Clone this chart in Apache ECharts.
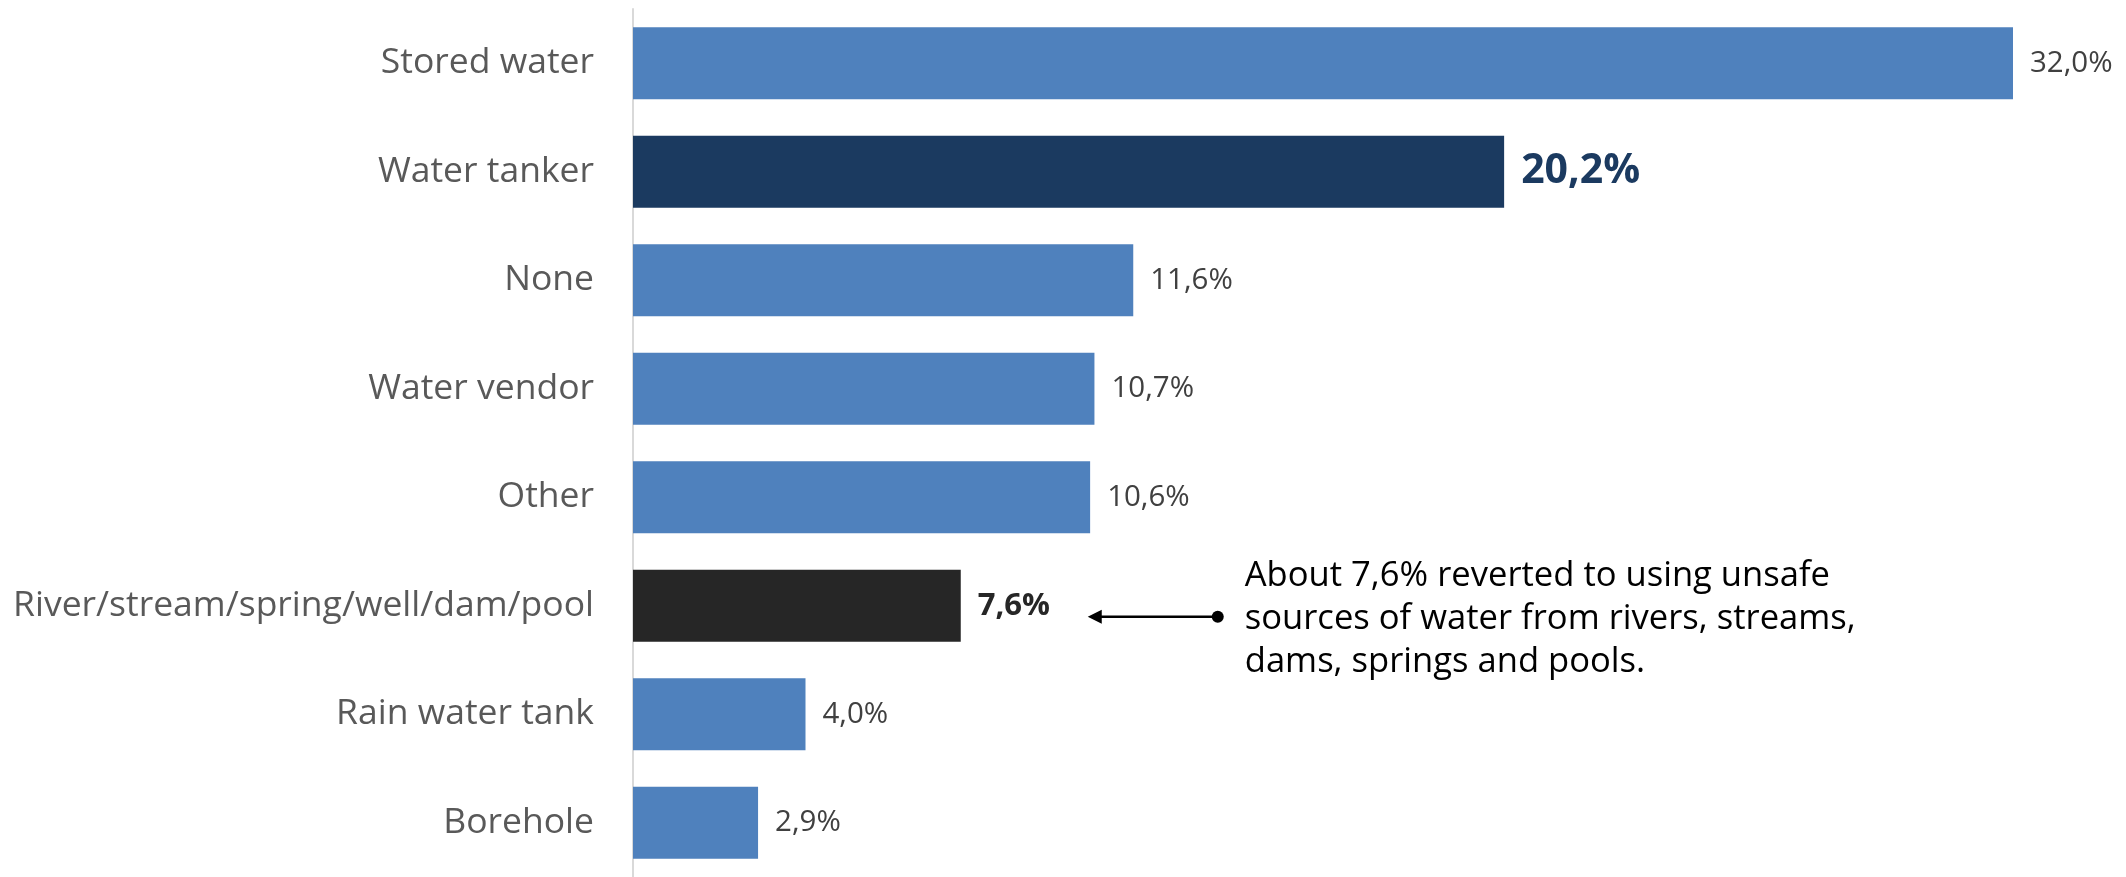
<!DOCTYPE html>
<html>
<head>
<meta charset="utf-8">
<script src="https://cdn.jsdelivr.net/npm/echarts@6/dist/echarts.min.js"></script>
<style>
  html, body { margin: 0; padding: 0; background: #fff; }
  #chart { width: 2126px; height: 877px; }
</style>
</head>
<body>
<div id="chart"></div>
<script>
// Alternative water sources used (share of households, %)
const categories = [
  'Stored water',
  'Water tanker',
  'None',
  'Water vendor',
  'Other',
  'River/stream/spring/well/dam/pool',
  'Rain water tank',
  'Borehole'
];
const shares = [32.0, 20.2, 11.6, 10.7, 10.6, 7.6, 4.0, 2.9];

const noteLines = [
  'About 7,6% reverted to using unsafe',
  'sources of water from rivers, streams,',
  'dams, springs and pools.'
];
const noteCategory = 'River/stream/spring/well/dam/pool';

const FONT = '"Open Sans", "Noto Sans", sans-serif';
const BASE_BLUE = '#4F81BD';

// Emphasised bars and their labels
const emphasis = {
  'Water tanker': { color: '#1B3A60', label: { color: '#1B3A60', fontSize: 41, fontWeight: 'bold' } },
  'River/stream/spring/well/dam/pool': { color: '#262626', label: { color: '#262626', fontSize: 31, fontWeight: 'bold' } }
};

const fmt = v => v.toFixed(1).replace('.', ',') + '%';

const barData = categories.map((c, i) => {
  const e = emphasis[c];
  const item = { value: shares[i], itemStyle: { color: e ? e.color : BASE_BLUE } };
  if (e) item.label = e.label;
  return item;
});

const chart = echarts.init(document.getElementById('chart'), null, { renderer: 'canvas' });

chart.setOption({
  animation: false,
  backgroundColor: '#ffffff',
  grid: { left: 633, top: 9, width: 1380, height: 872, containLabel: false },
  xAxis: {
    type: 'value', min: 0, max: 32,
    show: false
  },
  yAxis: {
    type: 'category',
    data: categories,
    inverse: true,
    axisLine: { show: true, lineStyle: { color: '#D9D9D9', width: 2 } },
    axisTick: { show: false },
    splitLine: { show: false },
    axisLabel: { color: '#595959', fontSize: 35.5, fontFamily: FONT, margin: 39, padding: [9, 0, 0, 0] }
  },
  series: [{
    type: 'bar',
    data: barData,
    barCategoryGap: '33.5%',
    label: {
      show: true,
      position: 'right',
      distance: 17,
      color: '#404040',
      fontSize: 29.5,
      fontFamily: FONT,
      padding: [6, 0, 0, 0],
      formatter: p => fmt(p.value)
    }
  }]
});

// Callout: arrow pointing back at the highlighted bar's label, with a note
function drawNote() {
  const idx = categories.indexOf(noteCategory);
  const end = chart.convertToPixel({ gridIndex: 0 }, [shares[idx], idx]);
  const y = end[1] + 11;
  const tipX = end[0] + 127;
  const dotX = end[0] + 257;
  const textX = end[0] + 284;
  chart.setOption({
    graphic: [
      { type: 'line', shape: { x1: tipX + 10, y1: y, x2: dotX, y2: y },
        style: { stroke: '#000', lineWidth: 2.5 } },
      { type: 'polygon', shape: { points: [[tipX, y], [tipX + 14, y - 7], [tipX + 14, y + 7]] },
        style: { fill: '#000' } },
      { type: 'circle', shape: { cx: dotX, cy: y, r: 6 }, style: { fill: '#000' } },
      { type: 'text', x: textX, y: y + 2,
        style: {
          text: noteLines.join('\n'),
          font: '34.6px ' + FONT,
          fill: '#000',
          lineHeight: 43,
          verticalAlign: 'middle'
        } }
    ]
  });
}
drawNote();
</script>
</body>
</html>
